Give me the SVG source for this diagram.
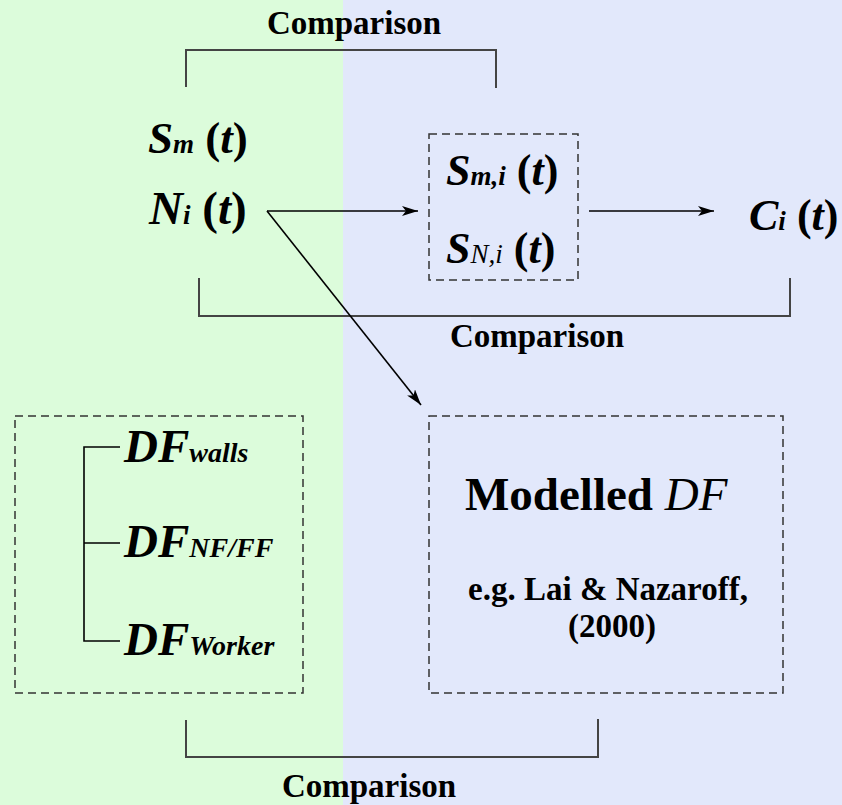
<svg xmlns="http://www.w3.org/2000/svg" width="842" height="805" viewBox="0 0 842 805">
<defs>
<style>
text{font-family:"Liberation Serif","Times New Roman",serif;font-weight:bold;fill:#000}
.big{font-size:44px}
.sub{font-size:27px;font-style:italic}
.dsub{font-size:28px;font-style:italic}
.it{font-style:italic}
.cmp{font-size:33px}
.dash{fill:none;stroke:#333;stroke-width:1.5;stroke-dasharray:8,5}
.br{fill:none;stroke:#444;stroke-width:2}
.ln{fill:none;stroke:#000;stroke-width:1.6}
</style>
<marker id="ah" viewBox="0 0 16 10" refX="16" refY="5" markerWidth="16" markerHeight="10" markerUnits="userSpaceOnUse" orient="auto">
<path d="M0,0 L16,5 L0,10 L4,5 Z" fill="#000"/>
</marker>
</defs>
<rect x="0" y="0" width="343" height="805" fill="#dcfcdb"/>
<rect x="343" y="0" width="499" height="805" fill="#e2e8fb"/>

<g id="cmp-top">
<path class="br" d="M186,87 V50 H496 V88"/>
<text class="cmp" x="354" y="34" text-anchor="middle">Comparison</text>
</g>
<g id="cmp-mid">
<path class="br" d="M199,278 V316 H790 V278"/>
<text class="cmp" x="537" y="347" text-anchor="middle">Comparison</text>
</g>
<g id="cmp-bot">
<path class="br" d="M186,720 V757 H598 V719"/>
<text class="cmp" x="369" y="797" text-anchor="middle">Comparison</text>
</g>

<g id="Sm">
<text class="big" x="148" y="153" style="font-size:45px"><tspan class="it">S</tspan><tspan class="sub">m</tspan> (<tspan class="it">t</tspan>)</text>
</g>
<g id="Ni">
<text class="big" x="149" y="224" style="font-size:47px"><tspan class="it">N</tspan><tspan class="sub">i</tspan> (<tspan class="it">t</tspan>)</text>
</g>
<g id="Smi-SNi">
<rect class="dash" x="429" y="134" width="149" height="146"/>
<text class="big" x="446" y="185"><tspan class="it">S</tspan><tspan class="sub">m,i</tspan> (<tspan class="it">t</tspan>)</text>
<text class="big" x="446" y="263"><tspan class="it">S</tspan><tspan class="sub" font-weight="normal">N,i</tspan> (<tspan class="it">t</tspan>)</text>
</g>
<g id="Ci">
<text class="big" x="749" y="230"><tspan class="it">C</tspan><tspan class="sub">i</tspan> (<tspan class="it">t</tspan>)</text>
</g>
<g id="DF-list">
<rect class="dash" x="15" y="416" width="288" height="277"/>
<path class="ln" d="M120,447 H84 V641 H120 M84,543 H120"/>
<text class="big it" x="124" y="462" style="font-size:47px">DF<tspan class="dsub">walls</tspan></text>
<text class="big it" x="124" y="557" style="font-size:47px">DF<tspan class="dsub">NF/FF</tspan></text>
<text class="big it" x="124" y="655" style="font-size:47px">DF<tspan class="dsub">Worker</tspan></text>
</g>
<g id="Modelled">
<rect class="dash" x="429" y="416" width="354" height="277"/>
<text x="465" y="510" font-size="47">Modelled <tspan font-style="italic" font-weight="normal">DF</tspan></text>
<text x="608" y="600" font-size="33" text-anchor="middle">e.g. Lai &amp; Nazaroff,</text>
<text x="612" y="637" font-size="33" text-anchor="middle">(2000)</text>
</g>

<g id="connectors">
<line class="ln" x1="267" y1="211" x2="418" y2="211" marker-end="url(#ah)"/>
<line class="ln" x1="267" y1="211" x2="421" y2="405" marker-end="url(#ah)"/>
<line class="ln" x1="589" y1="211" x2="714" y2="211" marker-end="url(#ah)"/>
</g>
</svg>
